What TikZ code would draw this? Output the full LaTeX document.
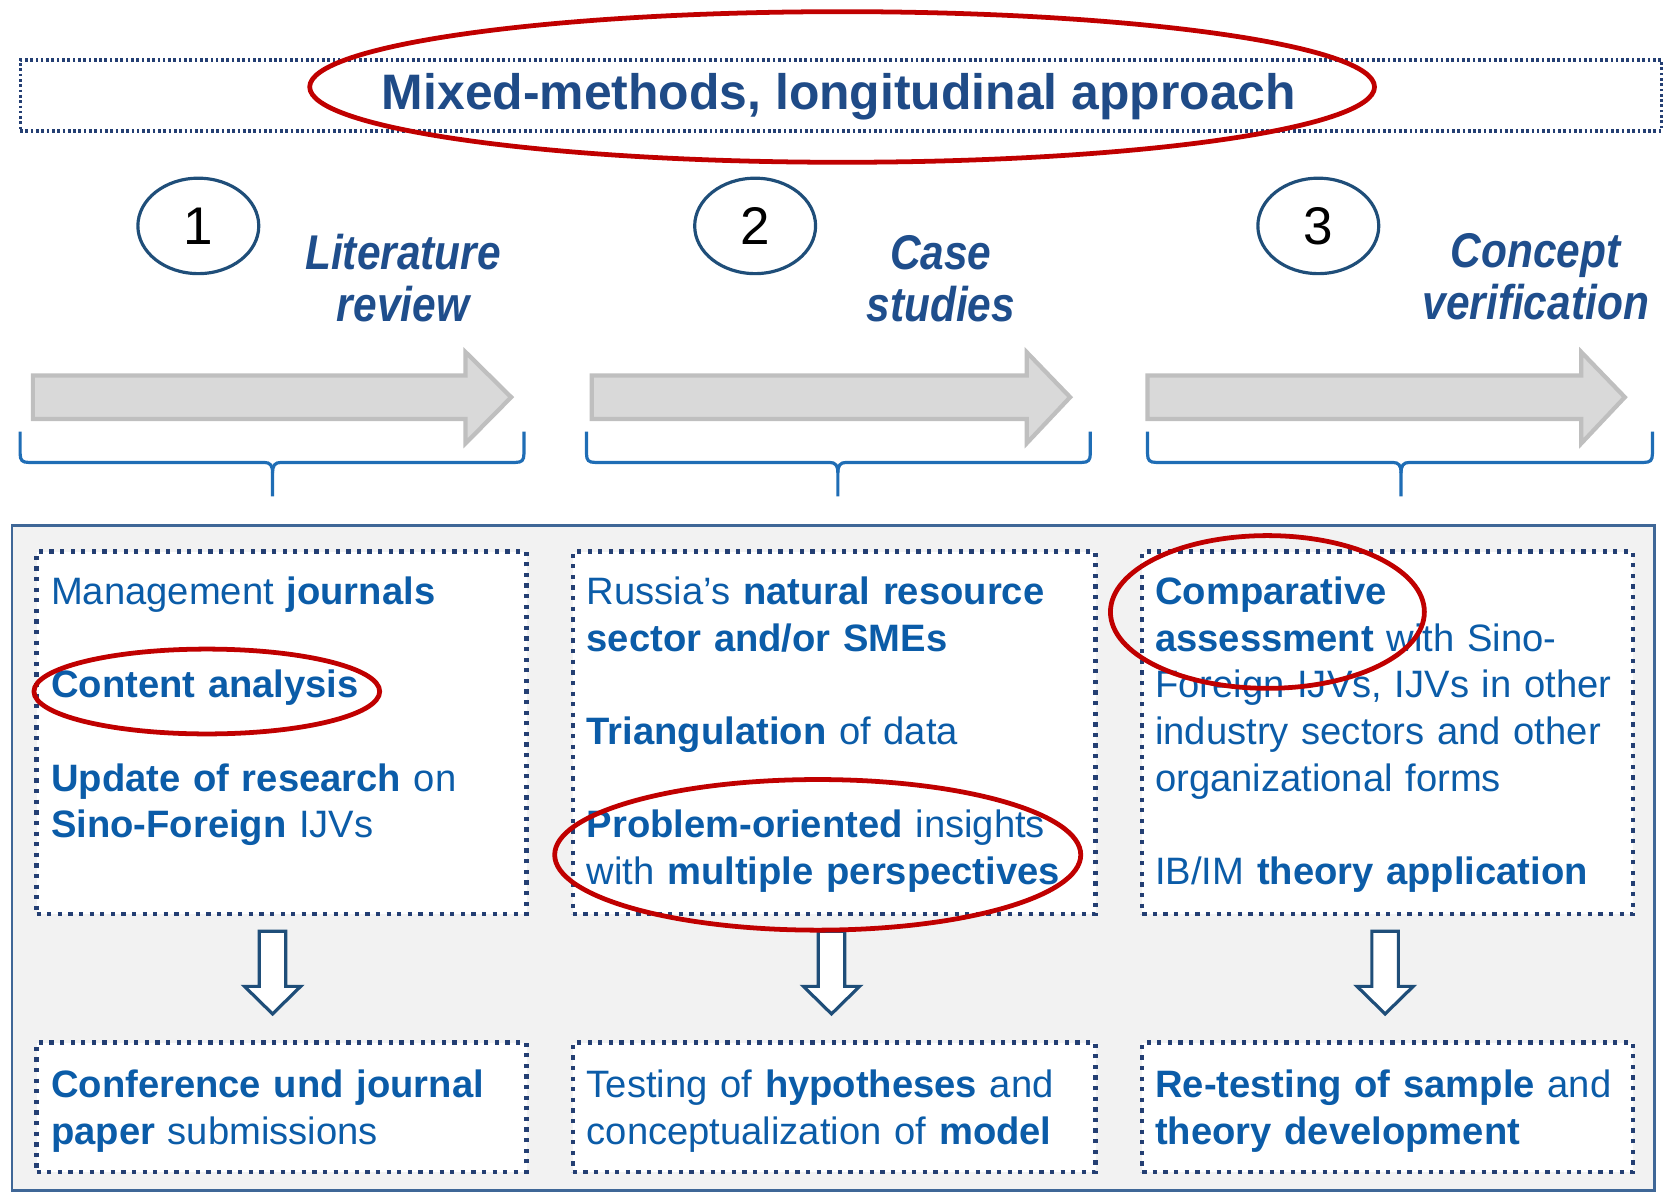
\documentclass[tikz,border=0pt]{standalone}
\usepackage{fontspec}
\setmainfont{Liberation Sans}
\newfontfamily\condfont[FakeStretch=0.87]{Liberation Sans}
\usetikzlibrary{shapes.geometric}
\definecolor{titleblue}{HTML}{1F4B87}
\definecolor{labelblue}{HTML}{1F4E8C}
\definecolor{textblue}{HTML}{0B5CA8}
\definecolor{bracecol}{HTML}{1F6DB5}
\definecolor{outlinenavy}{HTML}{1F4E79}
\definecolor{dotnavy}{HTML}{243F73}
\definecolor{panelborder}{HTML}{3F6797}
\definecolor{panelfill}{HTML}{F2F2F2}
\definecolor{ringred}{HTML}{C00000}
\definecolor{arrowfill}{HTML}{D9D9D9}
\definecolor{arrowline}{HTML}{BFBFBF}
\begin{document}
\begin{tikzpicture}[x=1pt,y=-1pt,
  panelbox/.style={draw=panelborder,fill=panelfill,line width=2.5pt,inner sep=0pt,anchor=north west},
  dotbox/.style={draw=dotnavy,fill=white,line width=4pt,dash pattern=on 4pt off 6pt,inner sep=0pt,anchor=north west},
  titlebox/.style={draw=dotnavy,line width=3pt,dash pattern=on 2.5pt off 2.5pt,inner sep=0pt,anchor=north west},
  titletext/.style={anchor=base,inner sep=0pt,text=titleblue,font=\bfseries\fontsize{47}{50}\selectfont},
  numcirc/.style={ellipse,draw=outlinenavy,line width=3pt,minimum width=114pt,minimum height=90pt,inner sep=0pt,font=\fontsize{50}{50}\selectfont},
  steplabel/.style={anchor=base,align=center,text width=240pt,inner sep=0pt,text=labelblue,font=\condfont\bfseries\itshape\fontsize{46}{49}\selectfont},
  boxtext/.style={anchor=base west,align=left,text width=445pt,inner sep=0pt,text=textblue,font=\fontsize{36}{44}\selectfont},
  grayarrow/.style={fill=arrowfill,draw=arrowline,line width=4pt,line join=miter},
  hollowarrow/.style={fill=white,draw=outlinenavy,line width=3pt,line join=miter},
  bracestyle/.style={draw=bracecol,line width=3pt},
  redring/.style={draw=ringred,line width=4.5pt}]
\useasboundingbox (0,0) rectangle (1568,1124);

% title
\node[titlebox,minimum width=1547.5pt,minimum height=67pt] (tbox) at (17.5,55) {};
\node[titletext] (title) at (791,103) {Mixed-methods, longitudinal approach};

% numbered circles and step labels
\node[numcirc] (n1) at (187,213) {1};
\node[numcirc] (n2) at (712,213) {2};
\node[numcirc] (n3) at (1243,213) {3};
\node[steplabel] (l1) at (380,254) {Literature\\review};
\node[steplabel] (l2) at (887,254) {Case\\studies};
\node[steplabel] (l3) at (1448,252) {Concept\\verification};

% gray process arrows
\foreach \a/\h/\t in {31/439/482, 558/968/1009, 1082/1491/1532}
  \draw[grayarrow] (\a,354) -- (\h,354) -- (\h,332) -- (\t,374.5) -- (\h,418) -- (\h,395) -- (\a,395) -- cycle;

% braces
\foreach \a/\m/\b in {19/257/494, 553/790/1028, 1082/1321/1558}{
  \draw[bracestyle] (\a,407) -- (\a,428) .. controls (\a,434) and (\a+2,436) .. (\a+8,436) -- (\m-8,436)
     .. controls (\m-2,436) and (\m,439) .. (\m,446) -- (\m,468);
  \draw[bracestyle] (\b,407) -- (\b,428) .. controls (\b,434) and (\b-2,436) .. (\b-8,436) -- (\m+8,436)
     .. controls (\m+2,436) and (\m,439) .. (\m,446);
}

% panel
\node[panelbox,minimum width=1549pt,minimum height=627pt] (panel) at (10,494) {};

% top boxes
\node[dotbox,minimum width=462pt,minimum height=342pt] (topA) at (32.5,518) {};
\node[dotbox,minimum width=493pt,minimum height=342pt] (topB) at (538,518) {};
\node[dotbox,minimum width=463pt,minimum height=342pt] (topC) at (1075,518) {};
% bottom boxes
\node[dotbox,minimum width=462pt,minimum height=122pt] (botA) at (32.5,981) {};
\node[dotbox,minimum width=493pt,minimum height=122pt] (botB) at (538,981) {};
\node[dotbox,minimum width=463pt,minimum height=122pt] (botC) at (1075,981) {};

% hollow down arrows
\foreach \c in {257,784,1306}
  \draw[hollowarrow] (\c-12.5,878) -- (\c+12.5,878) -- (\c+12.5,930) -- (\c+26.5,930) -- (\c,956) -- (\c-26.5,930) -- (\c-12.5,930) -- cycle;

% box texts
\node[boxtext] (tA) at (48,570) {Management \textbf{journals}\\[44pt]\textbf{Content analysis}\\[44pt]\textbf{Update of research} on\\\textbf{Sino-Foreign} IJVs};
\node[boxtext,text width=475pt] (tB) at (553,570) {Russia’s \textbf{natural resource}\\\textbf{sector and/or SMEs}\\[44pt]\textbf{Triangulation} of data\\[44pt]\textbf{Problem-oriented} insights\\with \textbf{multiple perspectives}};
\node[boxtext] (tC) at (1089,570) {\textbf{Comparative}\\\textbf{assessment} with Sino-\\Foreign IJVs, IJVs in other\\industry sectors and other\\organizational forms\\[44pt]IB/IM \textbf{theory application}};
\node[boxtext] (bA) at (48,1035) {\textbf{Conference und journal}\\\textbf{paper} submissions};
\node[boxtext,text width=475pt] (bB) at (553,1035) {Testing of \textbf{hypotheses} and\\conceptualization of \textbf{model}};
\node[boxtext] (bC) at (1089,1035) {\textbf{Re-testing of sample} and\\\textbf{theory development}};

% red highlight rings
\draw[redring] (794,82) ellipse [x radius=502, y radius=71];
\draw[redring] (195,652) ellipse [x radius=163, y radius=40];
\draw[redring] (771,806) ellipse [x radius=248, y radius=71];
\draw[redring] (1195,577) ellipse [x radius=148, y radius=72];
\end{tikzpicture}
\end{document}
